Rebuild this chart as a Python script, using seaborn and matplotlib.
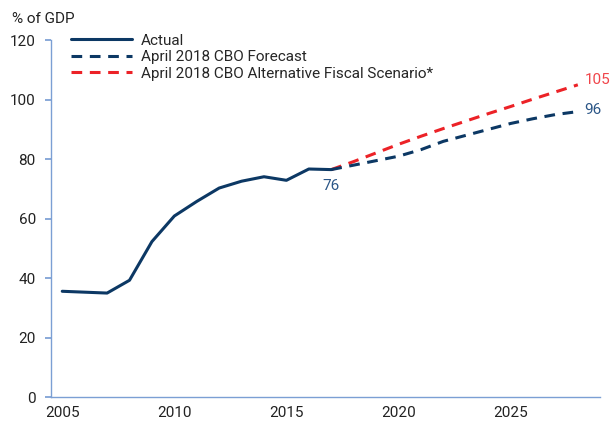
import matplotlib
matplotlib.use("Agg")
import matplotlib.pyplot as plt
import pandas as pd
import seaborn as sns

years_actual = list(range(2005, 2018))
debt_actual = [35.6, 35.3, 35.0, 39.3, 52.3, 60.9, 65.8, 70.3, 72.6, 74.1, 72.9, 76.7, 76.5]

years_proj = list(range(2017, 2029))
debt_cbo = [76.5, 78.0, 79.5, 81.0, 83.2, 86.0, 88.0, 90.0, 92.0, 93.6, 95.0, 96.0]
debt_alt = [76.5, 79.2, 82.1, 85.0, 87.7, 90.3, 92.8, 95.3, 97.7, 100.2, 102.6, 105.0]

NAVY = "#0c3864"
RED = "#ec2227"
SPINE = "#7b9fd4"

sns.set_theme(style="white")
plt.rcParams["font.family"] = ["Roboto", "DejaVu Sans"]

df_actual = pd.DataFrame({"year": years_actual, "value": debt_actual})
df_cbo = pd.DataFrame({"year": years_proj, "value": debt_cbo})
df_alt = pd.DataFrame({"year": years_proj, "value": debt_alt})

fig = plt.figure(figsize=(6.15, 4.23), dpi=100)
ax = fig.add_axes([0.083, 0.061, 0.893, 0.844])

sns.lineplot(data=df_alt, x="year", y="value", ax=ax, color=RED, lw=2.2,
             label="April 2018 CBO Alternative Fiscal Scenario*")
sns.lineplot(data=df_cbo, x="year", y="value", ax=ax, color=NAVY, lw=2.2,
             label="April 2018 CBO Forecast")
sns.lineplot(data=df_actual, x="year", y="value", ax=ax, color=NAVY, lw=2.2,
             label="Actual")
ax.lines[0].set_linestyle((0, (3.5, 2.5)))
ax.lines[1].set_linestyle((0, (3.5, 2.5)))

ax.set_xlim(2004.5, 2029.0)
ax.set_ylim(0, 120)
ax.set_xticks([2005, 2010, 2015, 2020, 2025])
ax.set_yticks([0, 20, 40, 60, 80, 100, 120])
ax.set_xlabel("")
ax.set_ylabel("")
for s in ["top", "right"]:
    ax.spines[s].set_visible(False)
for s in ["left", "bottom"]:
    ax.spines[s].set_color(SPINE)
    ax.spines[s].set_linewidth(1.0)
ax.tick_params(axis="y", length=4, color=SPINE, labelsize=11, labelcolor="#222222", pad=7, left=True)
ax.tick_params(axis="x", length=0, labelsize=11, labelcolor="#222222", pad=6)

handles, labels = ax.get_legend_handles_labels()
order = [2, 1, 0]
ax.legend([handles[i] for i in order], [labels[i] for i in order],
          loc="upper left", bbox_to_anchor=(0.025, 1.035), frameon=False,
          fontsize=11, handlelength=4.0, handletextpad=0.6, labelspacing=0.16,
          borderaxespad=0)

ax.text(2017, debt_actual[-1] - 3, "76", color="#2b5687", fontsize=11, ha="center", va="top")
ax.text(2028.3, debt_cbo[-1] + 0.5, "96", color="#2b5687", fontsize=11, ha="left", va="center")
ax.text(2028.3, debt_alt[-1] + 1.5, "105", color="#f0454a", fontsize=11, ha="left", va="center")

fig.text(0.02, 0.955, "% of GDP", fontsize=11, color="#222222", va="center")

fig.savefig("out.png", dpi=100)
